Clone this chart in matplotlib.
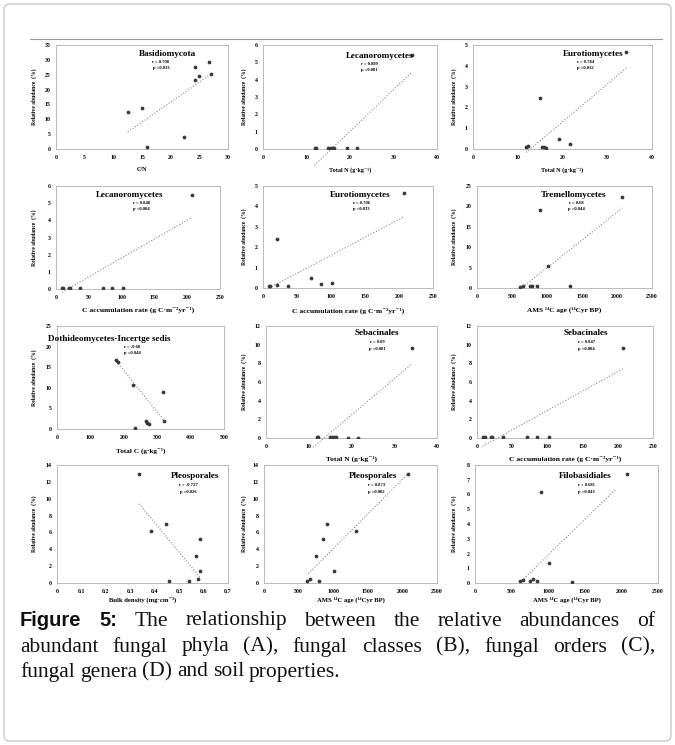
import matplotlib
matplotlib.use('Agg')
from matplotlib import pyplot as plt
from matplotlib.patches import FancyBboxPatch
from matplotlib.lines import Line2D
import numpy as np

W, H = 675, 745

# ---- data ----
cn = [12.5, 15.0, 15.8, 22.3, 24.2, 24.2, 24.9, 26.6, 27.0]
basidio_cn = [12.6, 13.8, 0.7, 4.1, 27.5, 23.2, 24.4, 29.3, 25.4]

total_n = [11.9, 12.2, 15.0, 15.4, 15.8, 16.3, 19.2, 21.6, 34.2]
lecano_n = [0.05, 0.06, 0.05, 0.06, 0.05, 0.05, 0.03, 0.08, 5.45]
euro_n = [0.08, 0.16, 2.45, 0.11, 0.08, 0.05, 0.48, 0.25, 4.65]
seba_n = [0.07, 0.09, 0.07, 0.09, 0.08, 0.08, 0.05, 0.05, 9.65]

c_acc = [9, 11, 20, 21, 37, 71, 85, 102, 207]
lecano_c = [0.05, 0.05, 0.06, 0.06, 0.04, 0.04, 0.06, 0.06, 5.45]
euro_c = [0.08, 0.08, 0.16, 2.42, 0.10, 0.48, 0.20, 0.25, 4.66]
seba_c = [0.07, 0.08, 0.10, 0.08, 0.06, 0.06, 0.12, 0.06, 9.65]

ams_age = [620, 660, 750, 790, 850, 905, 1015, 1325, 2075]
tremello_age = [0.2, 0.4, 0.4, 0.4, 0.4, 19.2, 5.5, 0.4, 22.3]
pleo_age = [0.24, 0.44, 3.2, 0.24, 5.2, 7.0, 1.4, 6.2, 12.9]
filo_age = [0.14, 0.18, 0.14, 0.25, 0.14, 6.2, 1.38, 0.07, 7.37]

total_c = [177, 184, 229, 234, 266, 270, 274, 316, 321]
dothi_c = [16.8, 16.2, 10.7, 0.25, 1.9, 1.5, 1.2, 9.1, 1.9]

bulk_density = [0.336, 0.386, 0.445, 0.457, 0.539, 0.567, 0.577, 0.587, 0.587]
pleo_bd = [12.9, 6.2, 7.0, 0.24, 0.24, 3.2, 0.44, 5.2, 1.4]

# trend line end points (x0, x1), (y0, y1) as drawn in the figure
trend_x = [(12.5, 27.0), (11.8, 34.3), (11.9, 34.2), (9, 207), (9, 207), (620, 2075),
           (178, 321), (11.0, 34.0), (8, 207), (0.336, 0.587), (640, 2072), (636, 1920)]
trend_y = [(5.7, 25.2), (-0.95, 4.46), (-0.16, 3.88), (-0.19, 4.16), (0.0, 3.49), (-0.24, 19.6),
           (16.4, 2.0), (-1.0, 7.9), (-0.88, 7.4), (9.4, 0.6), (1.1, 12.9), (0.14, 6.35)]

titles = ['Basidiomycota', 'Lecanoromycetes', 'Eurotiomycetes',
          'Lecanoromycetes', 'Eurotiomycetes', 'Tremellomycetes',
          'Dothideomycetes-Incertge sedis', 'Sebacinales', 'Sebacinales',
          'Pleosporales', 'Pleosporales', 'Filobasidiales']
r_text = ['r = 0.708', 'r = 0.889', 'r = 0.784', 'r = 0.848', 'r = 0.706', 'r = 0.68',
          'r = -0.68', 'r = 0.89', 'r = 0.847', 'r = -0.727', 'r = 0.873', 'r = 0.681']
p_text = ['p =0.033', 'p =0.001', 'p =0.012', 'p =0.004', 'p =0.033', 'p =0.044',
          'p =0.044', 'p =0.001', 'p =0.004', 'p =0.026', 'p =0.002', 'p =0.043']

lab_n = 'Total N (g·kg⁻¹)'
lab_c = 'C accumulation rate (g C·m⁻²yr⁻¹)'
lab_age = 'AMS ¹⁴C age (¹⁴Cyr BP)'
xlabels = ['C/N', lab_n, lab_n, lab_c, lab_c, lab_age,
           'Total C (g·kg⁻¹)', lab_n, lab_c, 'Bulk density (mg·cm⁻³)', lab_age, lab_age]

xs = [cn, total_n, total_n, c_acc, c_acc, ams_age, total_c, total_n, c_acc, bulk_density, ams_age, ams_age]
ys = [basidio_cn, lecano_n, euro_n, lecano_c, euro_c, tremello_age, dothi_c, seba_n, seba_c,
      pleo_bd, pleo_age, filo_age]

xlims = [(0, 30, 5), (0, 40, 10), (0, 40, 10), (0, 250, 50), (0, 250, 50), (0, 2500, 500),
         (0, 500, 100), (0, 40, 10), (0, 250, 50), (0, 0.7, 0.1), (0, 2500, 500), (0, 2500, 500)]
ylims = [(0, 35, 5), (0, 6, 1), (0, 5, 1), (0, 6, 1), (0, 5, 1), (0, 25, 5),
         (0, 25, 5), (0, 12, 2), (0, 12, 2), (0, 14, 2), (0, 14, 2), (0, 8, 1)]

# ---- layout (pixels) ----
boxes = [(56, 45, 228, 149), (263, 45, 437, 149), (473, 45, 652, 149),
         (56, 186, 220, 289), (263, 186, 433, 288), (477, 186, 652, 288),
         (57, 326, 224, 429), (266, 326, 437, 438), (477, 326, 653, 438),
         (57, 465, 228, 583), (264, 465, 437, 583), (475, 465, 658, 583)]
ylab_x = [37, 247, 457, 37, 247, 457, 37, 247, 457, 37, 247, 457]
xlab_y = [167, 167, 167, 307, 308, 307, 448, 456, 456, 597, 597, 597]
xlab_size = [4.4, 4.4, 4.4, 5.4, 5.4, 5.2, 5.2, 5.4, 5.4, 4.8, 4.8, 4.8]
title_pos = [(0.65, 0.95), (0.67, 0.93), (0.67, 0.95), (0.45, 0.95), (0.57, 0.95), (0.55, 0.95),
             (0.31, 0.91), (0.65, 0.97), (0.62, 0.97), (0.81, 0.94), (0.63, 0.94), (0.60, 0.94)]
stat_x = [0.61, 0.61, 0.63, 0.52, 0.58, 0.57, 0.45, 0.65, 0.62, 0.77, 0.65, 0.61]

serif = ['Liberation Serif', 'DejaVu Serif']
fig = plt.figure(figsize=(W / 100, H / 100), dpi=100)

# outer rounded frame and top rule
fig.patches.append(FancyBboxPatch((4 / W, 4 / H), 667 / W, 737 / H,
                                  boxstyle='round,pad=0,rounding_size=0.008',
                                  transform=fig.transFigure, fc='none', ec='#c8c8c8', lw=1.0))
fig.lines.append(Line2D([30 / W, 662 / W], [1 - 39 / H, 1 - 39 / H], transform=fig.transFigure,
                        color='#9a9a9a', lw=0.8))

for i in range(12):
    l, t, r, b = boxes[i]
    ax = fig.add_axes([l / W, 1 - b / H, (r - l) / W, (b - t) / H])
    ax.plot(xs[i], ys[i], 'o', ms=1.7, color='#3a3a3a', zorder=3)
    ax.plot(trend_x[i], trend_y[i], ':', color='#8a8a8a', lw=0.8, clip_on=False)
    x0, x1, xs_ = xlims[i]
    y0, y1, ys_ = ylims[i]
    ax.set_xlim(x0, x1)
    ax.set_ylim(y0, y1)
    xt = np.arange(x0, x1 + xs_ / 2, xs_)
    ax.set_xticks(xt)
    ax.set_xticklabels(['0' if v == 0 else ('%g' % round(v, 2)) for v in xt])
    ax.set_yticks(np.arange(y0, y1 + ys_ / 2, ys_))
    ax.tick_params(labelsize=4.2, length=0, pad=4)
    for lab in ax.get_xticklabels() + ax.get_yticklabels():
        lab.set_family(serif)
        lab.set_fontweight('bold')
    for s in ax.spines.values():
        s.set_color('#b0b0b0')
        s.set_linewidth(0.6)
    ax.set_ylabel('Relative abudance  (%)', fontsize=4.1, fontweight='bold', family=serif)
    ax.yaxis.set_label_coords((ylab_x[i] - l) / (r - l), 0.5)
    ax.set_xlabel(xlabels[i], fontsize=xlab_size[i], fontweight='bold', family=serif)
    ax.xaxis.set_label_coords(0.5, (b - xlab_y[i]) / (b - t))
    tx, ty = title_pos[i]
    ax.text(tx, ty, titles[i], transform=ax.transAxes, ha='center', va='top',
            fontsize=6.6, fontweight='bold', family=serif)
    ax.text(stat_x[i], ty - 0.095, r_text[i], transform=ax.transAxes, ha='center', va='top',
            fontsize=3.3, fontweight='bold', family=serif)
    ax.text(stat_x[i], ty - 0.155, p_text[i], transform=ax.transAxes, ha='center', va='top',
            fontsize=3.3, fontweight='bold', family=serif)

# caption, justified by hand
caption = [
    (['Figure', '5:', 'The', 'relationship', 'between', 'the', 'relative', 'abundances', 'of'], 621, True),
    (['abundant', 'fungal', 'phyla', '(A),', 'fungal', 'classes', '(B),', 'fungal', 'orders', '(C),'], 647, True),
    (['fungal', 'genera', '(D)', 'and', 'soil', 'properties.'], 672, False),
]
renderer = fig.canvas.get_renderer()
for words, y, just in caption:
    texts = []
    for w in words:
        bold = w in ('Figure', '5:') and y == 621
        texts.append(fig.text(0, 1 - y / H, w, fontsize=15.5 if not bold else 14.5, va='center',
                              fontweight='bold' if bold else 'normal',
                              family=['Liberation Sans'] if bold else serif, color='#111111'))
    widths = [t.get_window_extent(renderer).width for t in texts]
    gap = (655 - 20 - sum(widths)) / (len(words) - 1) if just else 5.0
    x = 20
    for t, wd in zip(texts, widths):
        t.set_x(x / W)
        x += wd + gap

fig.savefig('out.png', dpi=100)
